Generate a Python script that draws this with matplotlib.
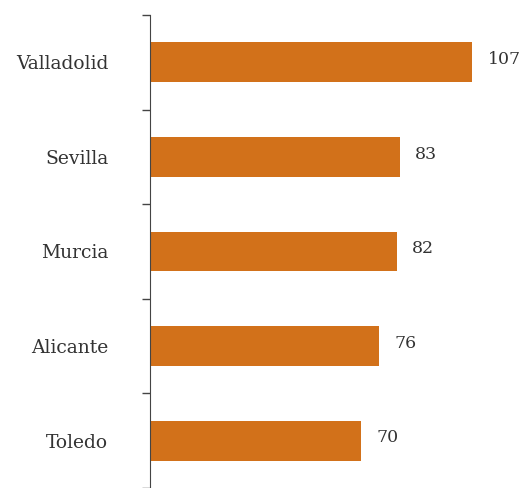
import numpy as np
import matplotlib
matplotlib.use("Agg")
from matplotlib import pyplot as plt

cities = ["Valladolid", "Sevilla", "Murcia", "Alicante", "Toledo"]
values = [107, 83, 82, 76, 70]

plt.rcParams['font.family'] = ['DejaVu Serif']

fig = plt.figure(figsize=(5.21, 4.88), dpi=100)
ax = fig.add_axes([150 / 521, 0.0, 361 / 521, 1 - 15 / 488])

y = np.arange(len(cities))
ax.barh(y, values, height=0.42, color='#D2711A')

for yi, v in zip(y, values):
    ax.text(v + 5.2, yi - 0.03, str(v), va='center', ha='left', fontsize=12.5, color='#333333')

ax.set_ylim(len(cities) - 0.5, -0.5)
ax.set_xlim(0, 120)

ax.set_yticks(y)
ax.set_yticklabels(cities, fontsize=13.5, color='#333333')
ax.tick_params(axis='y', which='major', length=0, pad=30)
ax.set_yticks(np.arange(-0.5, len(cities) + 0.5, 1), minor=True)
ax.tick_params(axis='y', which='minor', length=6, width=1, color='#444444')

ax.set_xticks([])
for s in ['top', 'right', 'bottom']:
    ax.spines[s].set_visible(False)
ax.spines['left'].set_color('#444444')

plt.savefig("out.png", dpi=100)
